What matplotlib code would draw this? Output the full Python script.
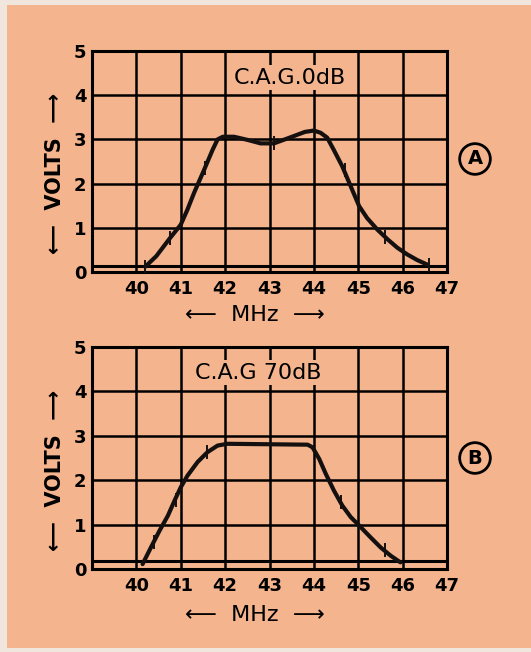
import matplotlib
matplotlib.use('Agg')
import matplotlib.pyplot as plt
from matplotlib.patches import Rectangle

# curve A : C.A.G. 0 dB
freq_a = [40.2, 40.45, 40.76, 41.0, 41.15, 41.3, 41.53, 41.72, 41.83, 41.95, 42.2, 42.5,
          42.8, 43.1, 43.4, 43.8, 44.0, 44.15, 44.3, 44.45, 44.64, 44.83, 45.02, 45.2,
          45.43, 45.66, 45.88, 46.1, 46.33, 46.55]
volts_a = [0.12, 0.36, 0.77, 1.07, 1.41, 1.79, 2.32, 2.77, 3.0, 3.06, 3.06, 2.99,
           2.91, 2.91, 3.02, 3.17, 3.2, 3.15, 3.04, 2.76, 2.39, 1.94, 1.49, 1.22,
           0.96, 0.74, 0.55, 0.4, 0.27, 0.17]

# curve B : C.A.G 70 dB
freq_b = [40.14, 40.33, 40.52, 40.71, 40.86, 41.0, 41.15, 41.38, 41.6, 41.83, 42.05,
          43.86, 43.97, 44.12, 44.27, 44.45, 44.64, 44.83, 45.02, 45.28, 45.5, 45.73, 45.95]
volts_b = [0.11, 0.49, 0.86, 1.2, 1.54, 1.84, 2.1, 2.41, 2.63, 2.78, 2.82,
           2.8, 2.74, 2.48, 2.14, 1.77, 1.43, 1.17, 0.98, 0.71, 0.49, 0.3, 0.15]

# little hatch marks drawn across the curves
marks_a = [(40.2, 0.12), (40.76, 0.77), (41.55, 2.35), (43.1, 2.91), (44.7, 2.3), (45.6, 0.8), (46.6, 0.15)]
marks_b = [(40.4, 0.6), (40.9, 1.55), (41.6, 2.63), (44.6, 1.5), (45.6, 0.42)]

xticks = [40, 41, 42, 43, 44, 45, 46, 47]
yticks = [0, 1, 2, 3, 4, 5]
titles = ['C.A.G.0dB', 'C.A.G 70dB']
letters = ['A', 'B']
baselines = [0.13, 0.17]

bg = '#F3B48E'
font = 'DejaVu Sans'

fig = plt.figure(figsize=(5.31, 6.52), dpi=100)
fig.patch.set_facecolor('#F1E6DE')
fig.patches.append(Rectangle((7 / 531, 4 / 652), 1 - 7 / 531, 1 - 9 / 652,
                             transform=fig.transFigure, facecolor=bg,
                             edgecolor='none', zorder=-10))

ax1 = fig.add_axes([92 / 531, 1 - 272 / 652, 355 / 531, 221 / 652])
ax2 = fig.add_axes([92 / 531, 1 - 569 / 652, 355 / 531, 222 / 652])

data = [(freq_a, volts_a, marks_a), (freq_b, volts_b, marks_b)]
title_pos = [(43.45, 4.4), (42.75, 4.42)]
letter_y = [159, 458]
mhz_y = [315, 615]
volts_y = [173, 470]

for i, ax in enumerate([ax1, ax2]):
    ax.set_facecolor('none')
    ax.set_xlim(39, 47)
    ax.set_ylim(0, 5)
    for x in range(40, 47):
        ax.axvline(x, color='black', lw=1.8, zorder=1)
    for y in range(1, 5):
        ax.axhline(y, color='black', lw=1.8, zorder=1)
    ax.axhline(baselines[i], color='black', lw=2.2, zorder=1)
    for s in ax.spines.values():
        s.set_linewidth(2.2)
    ax.set_xticks(xticks)
    ax.set_yticks(yticks)
    ax.tick_params(length=0, pad=6, labelsize=13)
    for lab in ax.get_xticklabels() + ax.get_yticklabels():
        lab.set_fontweight('bold')
        lab.set_family(font)
    ax.tick_params(axis='y', pad=4)

    f, v, m = data[i]
    ax.plot(f, v, color='#151010', lw=3, solid_capstyle='round',
            solid_joinstyle='round', zorder=3)
    ax.plot([p[0] for p in m], [p[1] for p in m], ls='none', marker='|', ms=10,
            mew=1.4, color='#151010', zorder=3)

    tx, ty = title_pos[i]
    ax.text(tx, ty, titles[i], ha='center', va='center', fontsize=16,
            family=font, zorder=4,
            bbox=dict(boxstyle='square,pad=0.12', fc=bg, ec='none'))

    fig.text(475 / 531, 1 - letter_y[i] / 652, letters[i], ha='center', va='center',
             fontsize=14, fontweight='bold', family=font,
             bbox=dict(boxstyle='circle,pad=0.3', fc='none', ec='black', lw=2))
    fig.text(255 / 531, 1 - mhz_y[i] / 652, '\u27f5  MHz  \u27f6', ha='center',
             va='center', fontsize=16, family=font)
    fig.text(55 / 531, 1 - volts_y[i] / 652, '\u27f5  VOLTS  \u27f6', ha='center',
             va='center', fontsize=15, fontweight='bold', family=font, rotation=90)

plt.savefig('out.png', dpi=100, facecolor=fig.get_facecolor())
